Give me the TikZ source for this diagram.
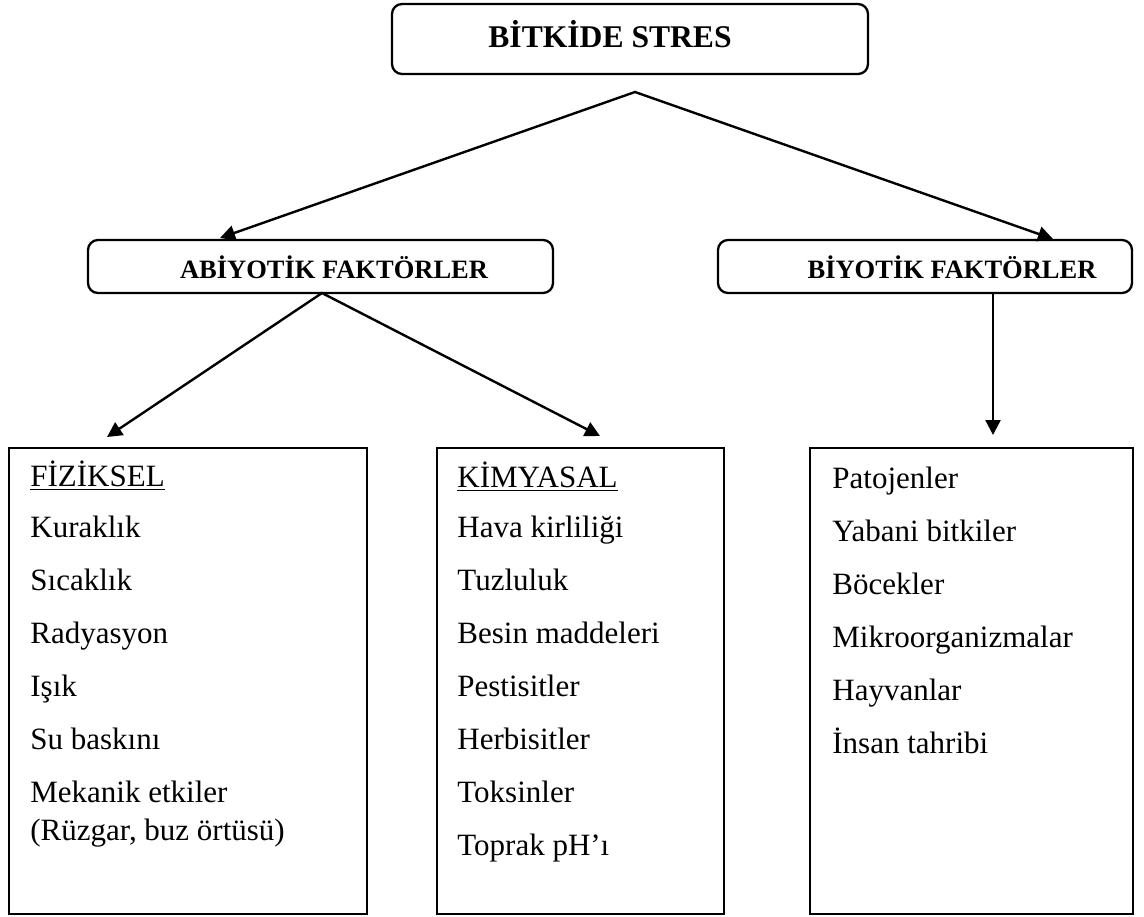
\documentclass[tikz,border=0pt]{standalone}
\usepackage{fontspec}
\setmainfont{Liberation Serif}
\usetikzlibrary{arrows.meta,fit}

\begin{document}
\begin{tikzpicture}[x=0.5pt,y=-0.5pt,
        headbox/.style={draw,line width=1.15pt,rounded corners=5pt,inner sep=0pt},
        listbox/.style={draw,line width=1.05pt,inner sep=0pt},
        headtext/.style={font=\fontsize{13.25}{16}\selectfont\bfseries,inner sep=0pt},
        item/.style={font=\fontsize{15.5}{18}\selectfont,anchor=base west,inner sep=0pt},
        stemtip/.tip={Triangle[length=7.5pt,width=7.5pt]},
        fork/.style={line width=1.2pt,{stemtip}-{stemtip}},
        arr/.style={line width=1.2pt,-{stemtip}}]
    \useasboundingbox (0,0) rectangle (1144,916);
    %% title and factor boxes
    \node[headbox,fit={(392,4) (868,74)}] (stres) {};
    \node[headtext,font=\fontsize{15.8}{19}\selectfont\bfseries,anchor=base] (strestxt) at (610,47) {BİTKİDE STRES};
    \node[headbox,fit={(88,240) (553,293)}] (abiyotik) {};
    \node[headtext] (abiyotiktxt) at (334,267) {ABİYOTİK FAKTÖRLER};
    \node[headbox,fit={(718,240) (1132,293)}] (biyotik) {};
    \node[headtext] (biyotiktxt) at (952,267) {BİYOTİK FAKTÖRLER};
    %% list boxes
    \node[listbox,fit={(9,448) (367,914)}] (fiziksel) {};
    \node[listbox,fit={(437,448) (724,914)}] (kimyasal) {};
    \node[listbox,fit={(810,448) (1133,914)}] (biyolist) {};
    %% forks and arrow ends
    \coordinate (stresfork) at (635,92);
    \coordinate (abitip) at (220,238);
    \coordinate (biyotip) at (1053,239);
    \coordinate (abifork) at (322,293);
    \coordinate (fiztip) at (107,437);
    \coordinate (kimtip) at (600,436);
    \coordinate (listtip) at (993,435);
    %% arrows
    \draw[fork] (abitip) -- (stresfork) -- (biyotip);
    \draw[fork] (fiztip) -- (abifork) -- (kimtip);
    \draw[arr] (biyotik.south -| listtip) -- (listtip);
    %% physical factors
    \node[item] (fizhead) at (30,486) {\underline{FİZİKSEL}};
    \foreach \t [count=\i] in {Kuraklık,Sıcaklık,Radyasyon,Işık,Su baskını,Mekanik etkiler}
        \node[item] (fiz\i) at (30,{537+53*(\i-1)}) {\t};
    \node[item] (fiznote) at (30,840) {(Rüzgar, buz örtüsü)};
    %% chemical factors
    \node[item] (kimhead) at (457,487) {\underline{KİMYASAL}};
    \foreach \t [count=\i] in {Hava kirliliği,Tuzluluk,Besin maddeleri,Pestisitler,Herbisitler,Toksinler,Toprak pH’ı}
        \node[item] (kim\i) at (457,{537+53*(\i-1)}) {\t};
    %% biotic factors
    \foreach \t [count=\i] in {Patojenler,Yabani bitkiler,Böcekler,Mikroorganizmalar,Hayvanlar,İnsan tahribi}
        \node[item] (biyo\i) at (832,{488+53*(\i-1)}) {\t};
\end{tikzpicture}
\end{document}
